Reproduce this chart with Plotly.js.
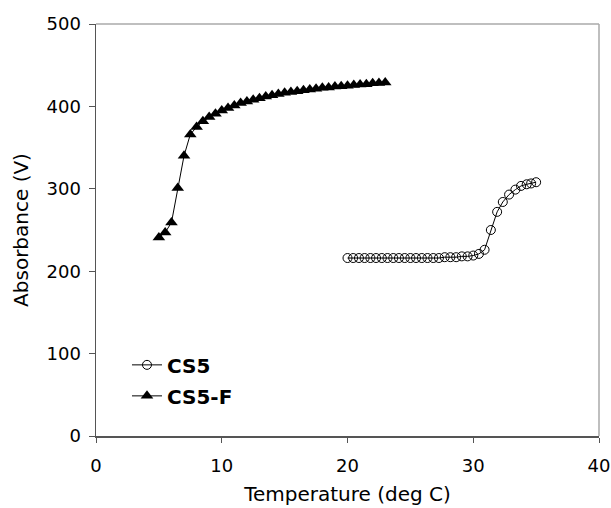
<!DOCTYPE html>
<html>
<head>
<meta charset="utf-8">
<script src="https://cdn.plot.ly/plotly-3.0.1.min.js"></script>
<style>body{margin:0;padding:0;background:#fff;}#chart{width:611px;height:508px;}</style>
</head>
<body>
<div id="chart"></div>
<script>
// CS5 series
var cs5Temp = [20,20.45,20.91,21.36,21.82,22.27,22.73,23.18,23.64,24.09,24.55,25,25.45,25.91,26.36,26.82,27.27,27.73,28.18,28.64,29.09,29.55,30,30.45,30.9,31.4,31.9,32.35,32.85,33.35,33.8,34.25,34.6,35];
var cs5Abs  = [216,216,216,216,216,216,216,216,216,216,216,216,216,216,216,216,216,217,217,217,218,218,219,221,226,250,272,284,293,299,303.5,305.5,306.5,308];
// CS5-F series
var cs5fTemp = [5,5.5,6,6.5,7,7.5,8,8.5,9,9.5,10,10.5,11,11.5,12,12.5,13,13.5,14,14.5,15,15.5,16,16.5,17,17.5,18,18.5,19,19.5,20,20.5,21,21.5,22,22.5,23];
var cs5fAbs  = [241,247,259,301,340,366,375,382,387,391,395,398,401,404,406,408,410,412,413.5,415,416.5,417.5,418.5,419.5,420.5,421.5,422.5,423,424,424.5,425,426,426.5,427,428,428.5,429];
var seriesNames = ["CS5", "CS5-F"];
var xTicks = [0,10,20,30,40];
var yTicks = [0,100,200,300,400,500];

var font = "DejaVu Sans, Verdana, sans-serif";
var traces = [
  {x: cs5Temp, y: cs5Abs, name: "<b>" + seriesNames[0] + "</b>", legendgroup: "a", type: "scatter", mode: "lines+markers",
   line: {color: "#000", width: 1},
   marker: {symbol: "circle-open", size: 9, color: "#000", line: {width: 1, color: "#000"}}},
  {x: cs5fTemp, y: cs5fAbs, name: "<b>" + seriesNames[1] + "</b>", legendgroup: "b", type: "scatter", mode: "lines+markers",
   line: {color: "#000", width: 1},
   marker: {symbol: "triangle-up", size: 11, color: "#000"}}
];
var layout = {
  width: 611, height: 508,
  margin: {l: 96, r: 11.5, t: 23.5, b: 71.5},
  paper_bgcolor: "#fff", plot_bgcolor: "#fff",
  font: {family: font, size: 18, color: "#000"},
  showlegend: true,
  legend: {x: 0.0616, y: 0.22, xanchor: "left", yanchor: "top", bgcolor: "rgba(0,0,0,0)",
           font: {family: font, size: 20, color: "#000"}, traceorder: "grouped", tracegroupgap: 2, itemwidth: 30},
  xaxis: {range: [0, 40], tickvals: xTicks, ticktext: xTicks.map(String), showgrid: false, zeroline: false,
          showline: true, linecolor: "#555", linewidth: 1.5, ticks: "outside", ticklen: 5, tickcolor: "#555",
          ticklabelstandoff: 8, automargin: false,
          tickfont: {size: 18}, title: {text: "Temperature (deg C)", font: {size: 20}, standoff: 12}},
  yaxis: {range: [0, 500], tickvals: yTicks, ticktext: yTicks.map(String), showgrid: false, zeroline: false,
          showline: true, linecolor: "#555", linewidth: 1.5, ticks: "outside", ticklen: 6, tickcolor: "#555",
          ticklabelstandoff: 4, automargin: false,
          tickfont: {size: 18}, title: {text: "Absorbance (V)", font: {size: 20}, standoff: 12}},
  shapes: [
    {type: "line", xref: "paper", yref: "paper", x0: 0, x1: 1, y0: 1, y1: 1, line: {color: "#aaa", width: 1.5}},
    {type: "line", xref: "paper", yref: "paper", x0: 1, x1: 1, y0: 0, y1: 1, line: {color: "#aaa", width: 1.5}}
  ]
};
Plotly.newPlot("chart", traces, layout, {displayModeBar: false, staticPlot: true});
</script>
</body>
</html>
